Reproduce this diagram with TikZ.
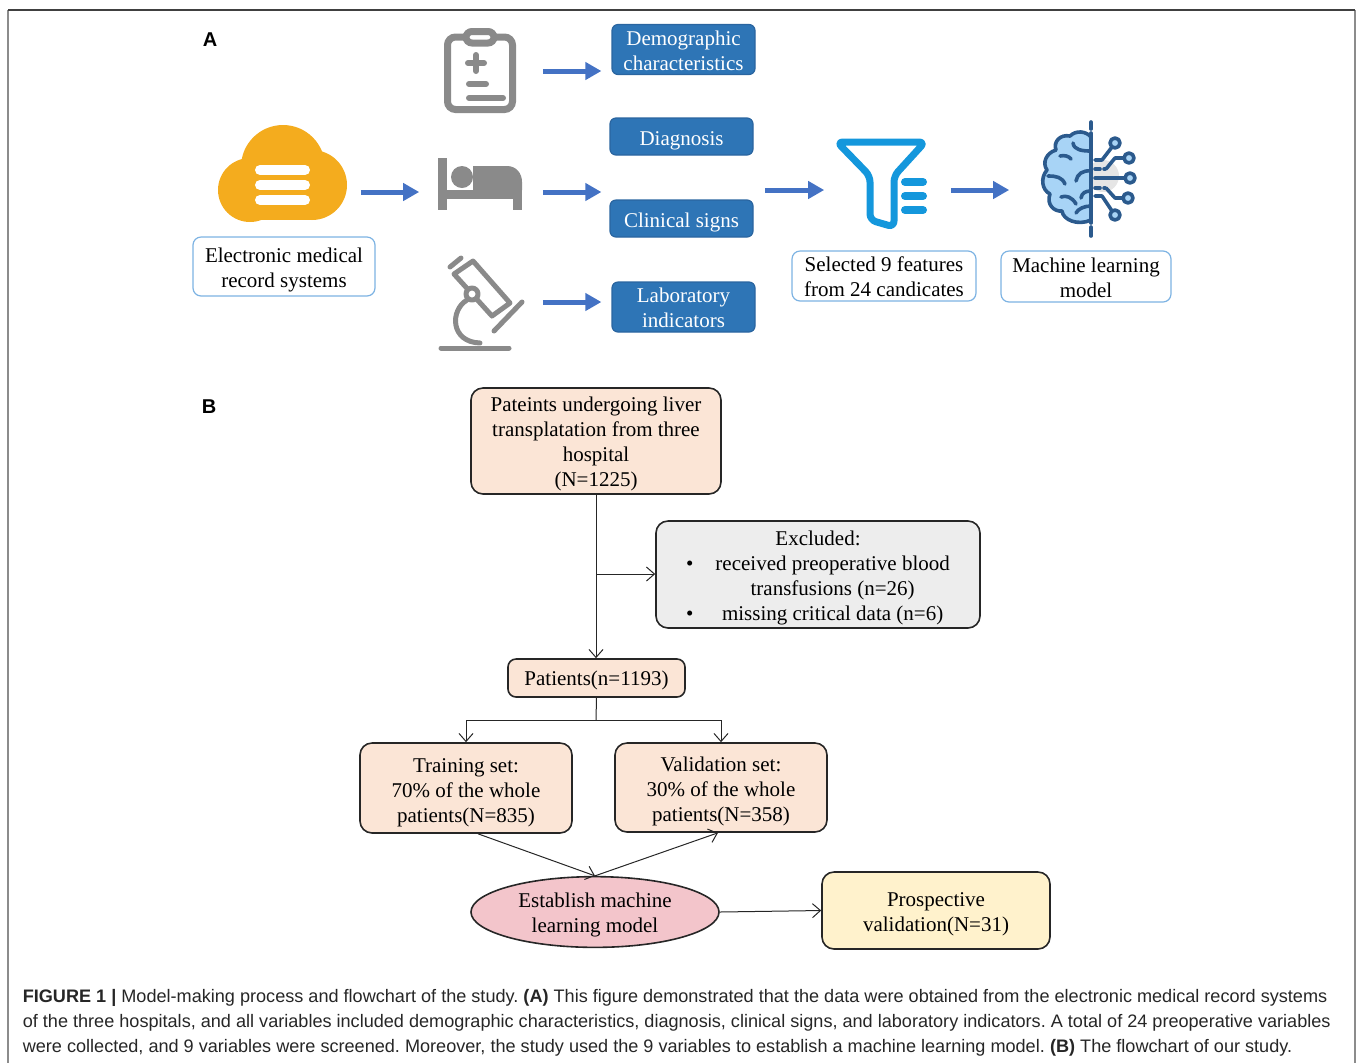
\documentclass[tikz,border=0pt]{standalone}
\usepackage{fontspec}
\setmainfont{Liberation Serif}
\setsansfont{Liberation Sans}
\usepackage{tikz}
\usetikzlibrary{arrows.meta,shapes.geometric,positioning}
\frenchspacing
\newcommand\droptext[2][1.8pt]{\raisebox{-#1}[\height][\depth]{\begin{tabular}{@{}c@{}}#2\end{tabular}}}

\definecolor{icongray}{HTML}{8A8A8A}
\definecolor{arrowblue}{HTML}{4472C4}
\definecolor{boxblue}{HTML}{2E75B6}
\definecolor{boxedge}{HTML}{2A65A0}
\definecolor{paleedge}{HTML}{7DB3E3}
\definecolor{cloudorange}{HTML}{F4AC1E}
\definecolor{funnelblue}{HTML}{1497DC}
\definecolor{braindark}{HTML}{2B5A8D}
\definecolor{brainlight}{HTML}{A8D4F6}
\definecolor{peach}{HTML}{FBE5D6}
\definecolor{exclgray}{HTML}{EDEDED}
\definecolor{rosepink}{HTML}{F3C5CB}
\definecolor{cream}{HTML}{FFF2CC}
\definecolor{framegray}{HTML}{8C8C8C}

\begin{document}
\begin{tikzpicture}[x=0.5pt,y=-0.5pt,thick,
  every node/.style={font=\fontsize{10.5}{12.5}\selectfont},
  blue box/.style={draw=boxedge,fill=boxblue,text=white,rounded corners=3pt,line width=0.6pt,align=center,minimum width=71.5pt,inner sep=0pt},
  pale box/.style={draw=paleedge,fill=white,rounded corners=4pt,line width=0.6pt,align=center,inner sep=0pt},
  flow box/.style={draw=black!85,rounded corners=6pt,line width=0.8pt,align=center,inner sep=0pt},
  icon/.style={minimum width=42pt,minimum height=10pt,inner sep=0pt},
  fat arrow/.style={draw=arrowblue,line width=2.5pt,-{Triangle[length=8pt,width=8.5pt]}},
  link/.style={draw=black!85,line width=0.5pt},
  thin arrow/.style={link,-{Straight Barb[length=4pt,width=7pt]}},
  panel/.style={font=\fontsize{10}{12}\sffamily\bfseries},
  caption/.style={font=\fontsize{9.05}{10}\sffamily,text=black!85,inner sep=0pt,anchor=base west}]
\useasboundingbox (0,0) rectangle (1360,1062);

% frame
\draw[framegray,line width=0.75pt] (8,1080) -- (8,10) (1355,10) -- (1355,1080);
\draw[black!75,line width=0.75pt] (8,10) -- (1355,10);

% ---- A ----
\node[panel] (labA) at (210,40) {A};

\node[blue box,minimum height=24.5pt] (demo) at (683.5,49.5) {\droptext[1.5pt]{Demographic\\characteristics}};
\node[blue box,minimum height=18.5pt] (diag) at (681.5,136.5) {\droptext[2pt]{Diagnosis}};
\node[blue box,minimum height=18.5pt] (clin) at (681.5,218.5) {\droptext[2pt]{Clinical signs}};
\node[blue box,minimum height=25pt] (lab) at (683.5,307) {\droptext[1.5pt]{Laboratory\\indicators}};
\node[pale box,minimum width=91pt,minimum height=29.5pt] (emr) at (284,266.5) {\droptext[1.5pt]{Electronic medical\\record systems}};
\node[pale box,minimum width=92pt,minimum height=25pt] (sel) at (884,276) {\droptext[1.5pt]{Selected 9 features\\from 24 candicates}};
\node[pale box,minimum width=85pt,minimum height=25.5pt] (mlm) at (1086,276.5) {\droptext[1.5pt]{Machine learning\\model}};

\node[icon,minimum width=63.5pt] (cloud) at (281.5,192) {};
\node[icon] (clip) at (480,71) {};
\node[icon] (bed) at (480,192) {};
\node[icon] (micro) at (480,302) {};
\node[icon,minimum width=48pt] (funnel) at (880,190) {};
\node[icon,minimum width=48pt] (brain) at (1090,190) {};
\coordinate (feat) at (765,190);

% cloud
\fill[cloudorange] (283,167) circle[radius=42];
\fill[cloudorange] (250,190) circle[radius=32];
\fill[cloudorange] (312,185) circle[radius=35];
\fill[cloudorange] (250,185) rectangle (312,220);
\draw[white,line width=5pt,line cap=round] (260,170) -- (305,170)
  (260,185) -- (305,185) (260,200) -- (305,200);

% clipboard
\begin{scope}[icongray,line width=3.5pt]
  \draw[rounded corners=4pt] (447.5,37) rectangle (512.5,109.5);
  \draw[fill=white,rounded corners=3pt] (466,31.5) rectangle (494,43);
  \draw[line cap=round,line width=3pt] (468,63) -- (484,63) (476,55) -- (476,71)
    (469,84) -- (486,84) (469,98) -- (503,98);
\end{scope}

% bed
\fill[icongray] (438,158) rectangle (447,210);
\fill[icongray] (447,190) rectangle (522,199);
\fill[icongray] (513,199) rectangle (522,210);
\fill[icongray] (462,177) circle[radius=11];
\fill[icongray] (473,166) -- (507,166) .. controls (516,166) and (522,173) .. (522,182)
  -- (522,190) -- (473,190) -- cycle;

% microscope
\begin{scope}[icongray,line width=2.5pt,line cap=round,line join=round]
  \draw (454,274) -- (473,261) -- (510,303) -- (492,316) -- cycle;
  \draw (450,267) -- (461,258);
  \draw (467,300) .. controls (450,310) and (450,342) .. (480,343);
  \draw (441,348) -- (509,348);
  \draw (494,331) -- (522,302);
  \draw[fill=white] (472,294) circle[radius=6];
\end{scope}

% funnel
\begin{scope}[funnelblue,line width=3.5pt,line join=round]
  \draw[rounded corners=3pt] (837,142) -- (925,142) -- (894,176) -- (894,227)
    -- (870,220) -- (870,176) -- cycle;
  \draw[line width=4pt,line cap=round] (905,182) -- (923,182) (905,196) -- (923,196)
    (905,210) -- (923,210);
\end{scope}

% brain
\fill[black!10] (1103,176) circle[radius=16];
\begin{scope}[braindark,line width=1.8pt,line cap=round,line join=round]
  \draw[fill=brainlight] (1091,137) .. controls (1086,131) and (1076,130) .. (1070,136)
    .. controls (1060,134) and (1053,142) .. (1056,150)
    .. controls (1046,153) and (1042,163) .. (1047,170)
    .. controls (1040,178) and (1042,190) .. (1050,194)
    .. controls (1046,204) and (1054,212) .. (1062,211)
    .. controls (1063,220) and (1078,226) .. (1091,220) -- cycle;
  \draw (1091,151) .. controls (1082,151) and (1074,150) .. (1073,143);
  \draw (1060,156) .. controls (1064,155) and (1069,156) .. (1071,159);
  \draw (1048,176) .. controls (1056,176) and (1062,177) .. (1065,184);
  \draw (1091,171) .. controls (1083,170) and (1077,174) .. (1076,181);
  \draw (1061,197) .. controls (1066,195) and (1072,197) .. (1076,204);
  \draw (1091,191) .. controls (1085,191) and (1082,193) .. (1081,198);
  \draw (1091,206) .. controls (1084,206) and (1078,209) .. (1076,213);
  \draw (1091,133) -- (1091,223) (1091,122) -- (1091,129) (1091,227) -- (1091,236);
  \draw (1095,160) -- (1102,160) -- (1112,147);
  \draw (1106,169) -- (1115,158) -- (1124,158);
  \draw (1095,178) -- (1125,178);
  \draw (1106,188) -- (1115,198) -- (1123,198);
  \draw (1095,196) -- (1102,196) -- (1112,211);
  \draw (1095,169) -- (1100,169) (1104,169) -- (1105,169)
    (1095,188) -- (1100,188) (1104,188) -- (1105,188);
  \foreach \cx/\cy in {1115/143,1129/158,1130/178,1128/198,1115/215}
    \draw[fill=brainlight] (\cx,\cy) circle[radius=5];
\end{scope}

\draw[fat arrow,shorten <=10pt,shorten >=5pt] (clip.east) -- (clip.east -| demo.west);
\draw[fat arrow,shorten <=7.5pt,shorten >=9pt] (cloud) -- (bed);
\draw[fat arrow,shorten <=10pt,shorten >=4pt] (bed.east) -- (bed.east -| clin.west);
\draw[fat arrow,shorten <=10pt,shorten >=5pt] (micro.east) -- (micro.east -| lab.west);
\draw[fat arrow,shorten >=3.5pt] (feat) -- (funnel);
\draw[fat arrow,shorten <=11pt,shorten >=16pt] (funnel) -- (brain);

% ---- B ----
\node[panel] (labB) at (209,407) {B};

\node[flow box,fill=peach,minimum width=125pt,minimum height=53pt] (pat) at (596,441)
  {\droptext[1.3pt]{Pateints undergoing liver\\transplatation from three\\hospital\\(N=1225)}};
\node[flow box,fill=exclgray,minimum width=162pt,minimum height=53.5pt] (excl) at (818,574.5)
  {\raisebox{-1.5pt}[\height][\depth]{\begin{tabular}{@{}c@{\hspace{11pt}}c@{}}
   \multicolumn{2}{c}{Excluded:}\\
   \textbullet & received preoperative blood\\
   & transfusions (n=26)\\
   \textbullet & missing critical data (n=6)
   \end{tabular}}};
\node[flow box,fill=peach,rounded corners=4pt,minimum width=88.5pt,minimum height=19pt] (pts) at (596.5,678) {\droptext[1pt]{Patients(n=1193)}};
\node[flow box,fill=peach,minimum width=106pt,minimum height=45pt] (train) at (466,788)
  {\droptext[2.2pt]{Training set:\\70\% of the whole\\patients(N=835)}};
\node[flow box,fill=peach,minimum width=106pt,minimum height=44.5pt] (valid) at (721,787.5)
  {\droptext[1.8pt]{Validation set:\\30\% of the whole\\patients(N=358)}};
\node[ellipse,draw=black!85,line width=0.8pt,fill=rosepink,minimum width=124pt,minimum height=35pt,inner sep=0pt,align=center] (est) at (595,912)
  {\droptext[1.5pt]{Establish machine\\learning model}};
\node[flow box,fill=cream,minimum width=114pt,minimum height=38.5pt] (pros) at (936,910.5)
  {\droptext[1.6pt]{Prospective\\validation(N=31)}};

\coordinate (cut) at (596,574);
\coordinate (split) at (596,720);
\draw[thin arrow] (pat.south) -- (pat.south |- pts.north);
\draw[thin arrow] (cut) -- (cut -| excl.west);
\draw[link] (pts.south) -- (split);
\draw[thin arrow] (split) -| (train.north);
\draw[thin arrow] (split) -| (valid.north);
\draw[thin arrow] ([xshift=6pt]train.south) -- (est.north);
\draw[thin arrow] (est.north) -- ([xshift=-1.5pt]valid.south);
\draw[thin arrow] (est.east) -- (pros.west);

% caption
\node[caption] (cap1) at (22,1002) {\textbf{FIGURE 1 |} Model-making process and flowchart of the study. \textbf{(A)} This figure demonstrated that the data were obtained from the electronic medical record systems};
\node[caption] (cap2) at (22,1027) {of the three hospitals, and all variables included demographic characteristics, diagnosis, clinical signs, and laboratory indicators. A total of 24 preoperative variables};
\node[caption] (cap3) at (22,1052) {were collected, and 9 variables were screened. Moreover, the study used the 9 variables to establish a machine learning model. \textbf{(B)} The flowchart of our study.};
\end{tikzpicture}
\end{document}
